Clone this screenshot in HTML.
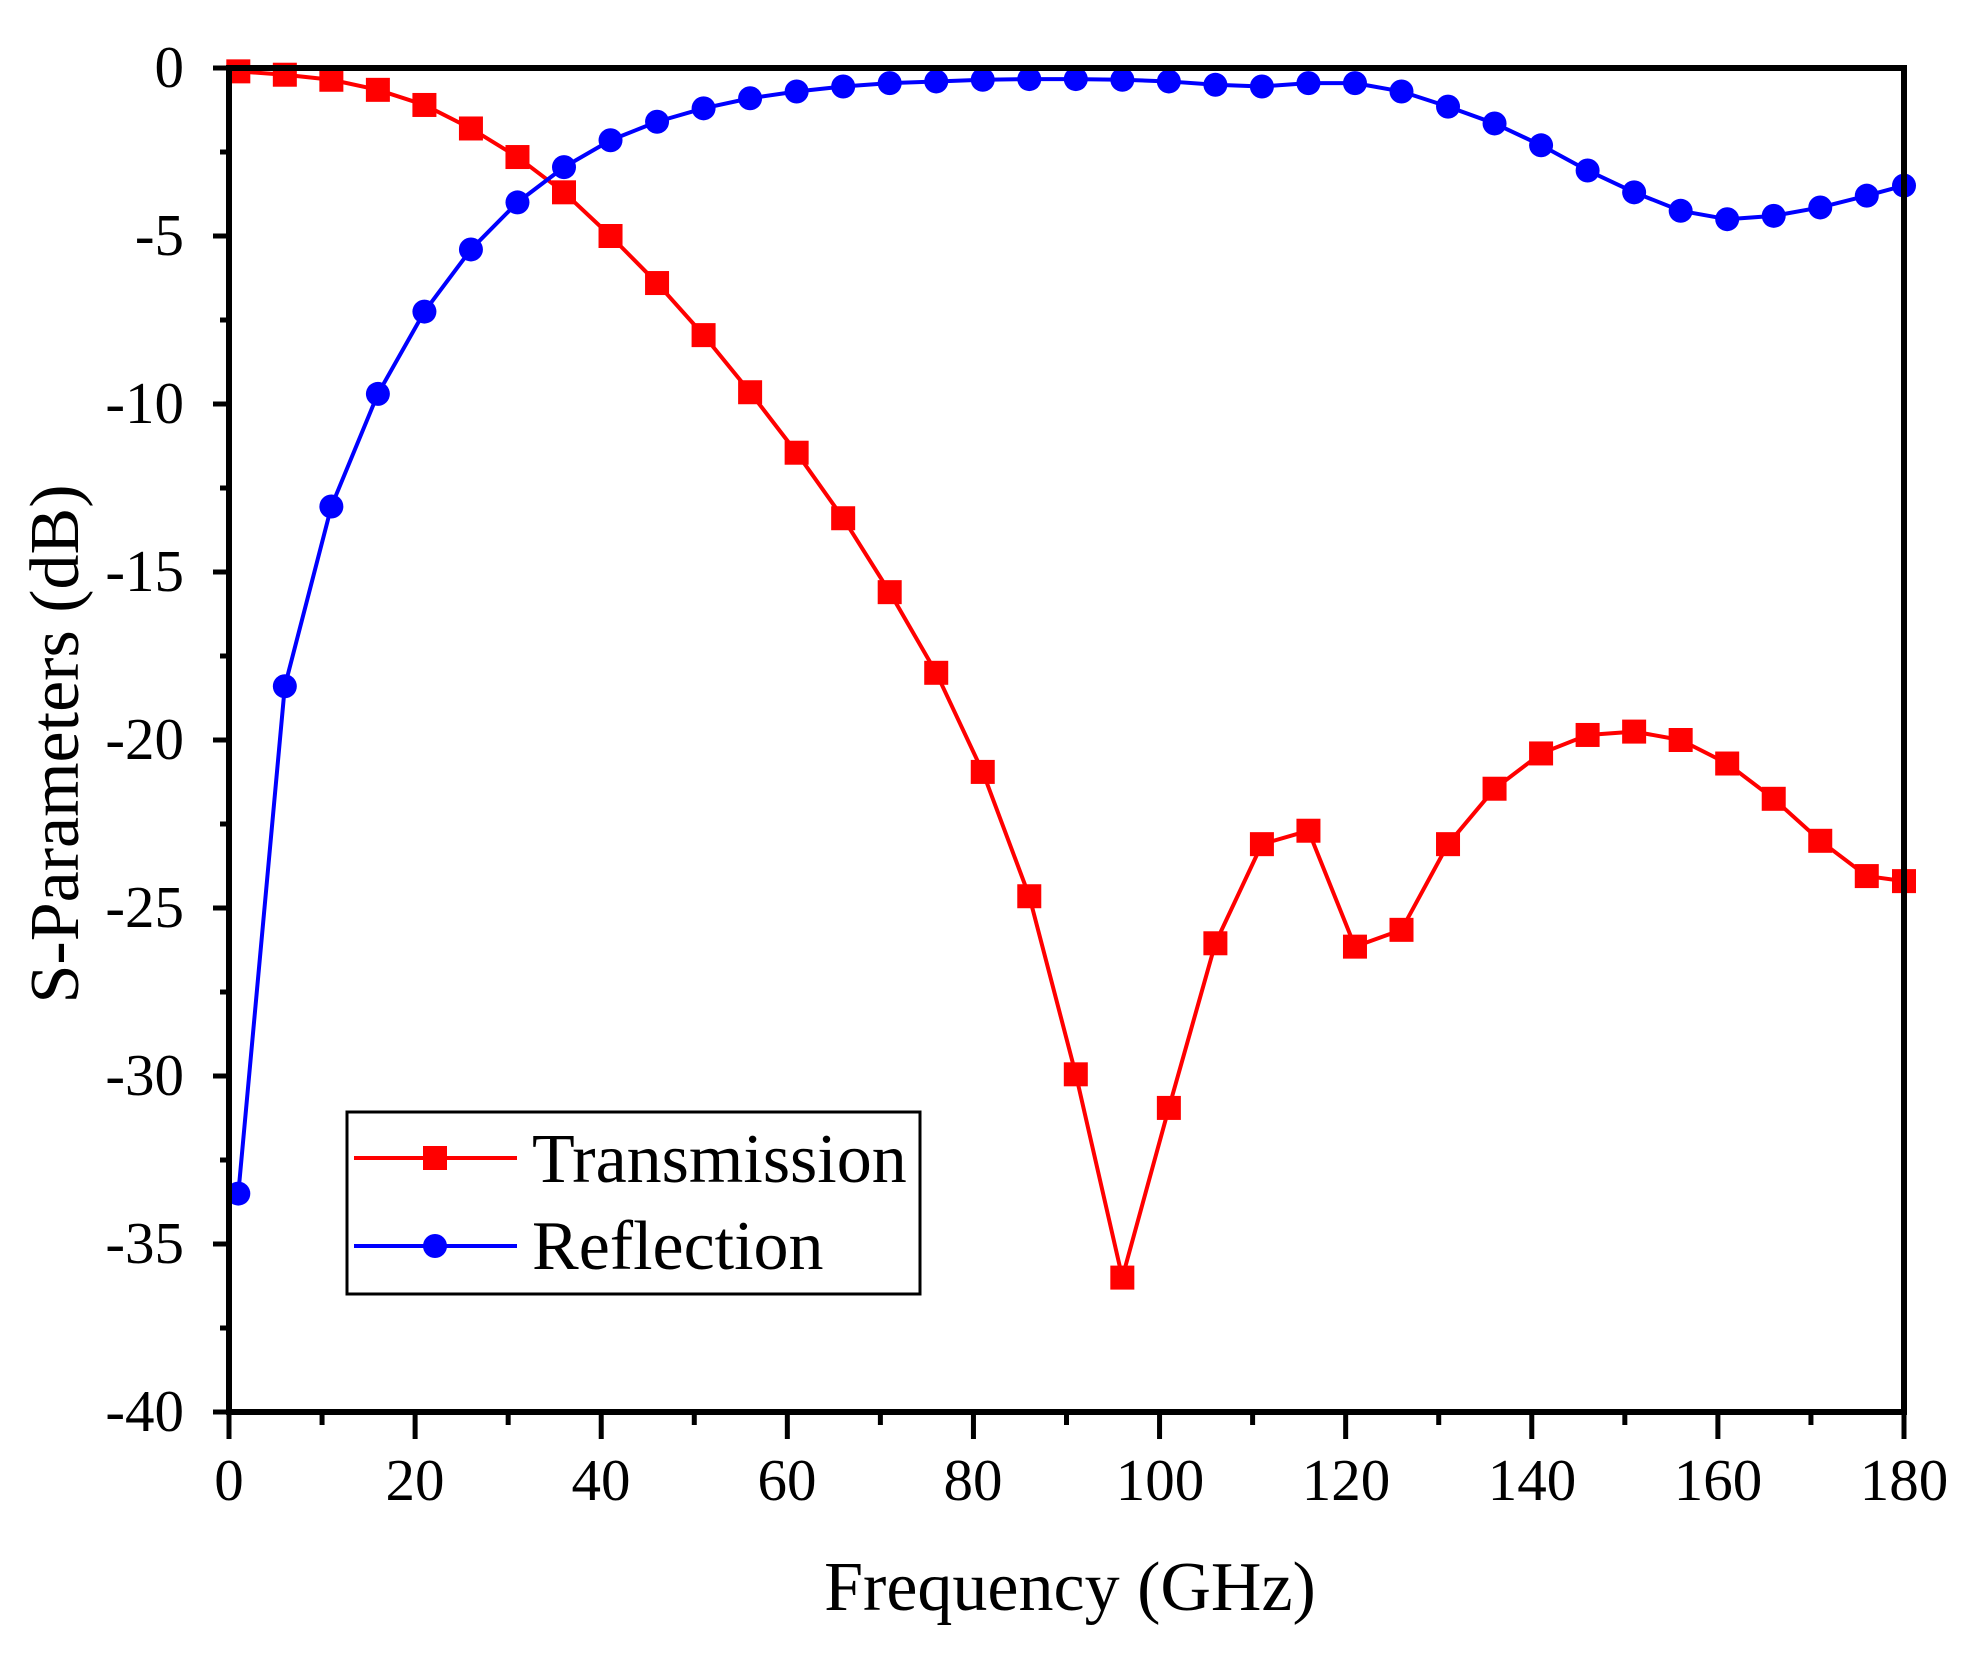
<!DOCTYPE html>
<html><head><meta charset="utf-8"><style>
html,body{margin:0;padding:0;background:#fff;}
svg text{font-family:"Liberation Serif",serif;fill:#000;}
</style></head><body>
<svg id="s" width="1975" height="1664" xmlns="http://www.w3.org/2000/svg">
<rect width="1975" height="1664" fill="#fff"/>
<g id="ticks" stroke="#000" stroke-width="5"></g>
<g font-size="59" text-anchor="end">
<text x="184" y="87">0</text>
<text x="184" y="255">-5</text>
<text x="184" y="423">-10</text>
<text x="184" y="591">-15</text>
<text x="184" y="759">-20</text>
<text x="184" y="927">-25</text>
<text x="184" y="1095">-30</text>
<text x="184" y="1263">-35</text>
<text x="184" y="1431">-40</text>
</g>
<g font-size="59" text-anchor="middle">
<text x="229" y="1500">0</text>
<text x="415" y="1500">20</text>
<text x="601" y="1500">40</text>
<text x="787" y="1500">60</text>
<text x="973" y="1500">80</text>
<text x="1160" y="1500">100</text>
<text x="1346" y="1500">120</text>
<text x="1532" y="1500">140</text>
<text x="1718" y="1500">160</text>
<text x="1904" y="1500">180</text>
</g>
<text x="1070" y="1610" font-size="70" text-anchor="middle">Frequency (GHz)</text>
<text transform="translate(78,744) rotate(-90)" font-size="70" text-anchor="middle">S-Parameters (dB)</text>
<g id="data"></g>
<rect x="229" y="68" width="1675" height="1344" fill="none" stroke="#000" stroke-width="6"/>
<rect x="347" y="1112" width="573" height="182" fill="#fff" stroke="#000" stroke-width="3"/>
<line x1="354" y1="1158" x2="517" y2="1158" stroke="#f00" stroke-width="4"/>
<rect x="423" y="1146" width="24" height="24" fill="#f00"/>
<line x1="354" y1="1246" x2="517" y2="1246" stroke="#00f" stroke-width="4"/>
<circle cx="435" cy="1246" r="12" fill="#00f"/>
<text x="532" y="1182" font-size="70">Transmission</text>
<text x="532" y="1269" font-size="70">Reflection</text>
</svg>
<script>
var X=function(f){return 229+f*1675/180},Y=function(d){return 68-d*33.6};
var t=document.getElementById('ticks'),h='';
for(var d=0;d>=-40;d-=2.5){var y=Y(d),maj=(d%5==0);h+='<line x1="'+(229-(maj?16:9))+'" y1="'+y+'" x2="229" y2="'+y+'"/>';}
for(var f=0;f<=180;f+=10){var x=X(f),maj=(f%20==0);h+='<line x1="'+x+'" y1="1412" x2="'+x+'" y2="'+(1412+(maj?27:13))+'"/>';}
t.innerHTML=h;
var fx=[];for(var i=1;i<=176;i+=5)fx.push(i);fx.push(180);
var T=[-0.1,-0.2,-0.35,-0.65,-1.1,-1.8,-2.65,-3.7,-5.0,-6.4,-7.95,-9.65,-11.45,-13.4,-15.6,-18.0,-20.95,-24.65,-29.95,-36.0,-30.95,-26.05,-23.1,-22.7,-26.15,-25.65,-23.1,-21.45,-20.4,-19.85,-19.75,-20.0,-20.7,-21.75,-23.0,-24.05,-24.2];
var R=[-33.5,-18.4,-13.05,-9.7,-7.25,-5.4,-4.0,-2.95,-2.15,-1.6,-1.2,-0.9,-0.7,-0.55,-0.45,-0.4,-0.35,-0.33,-0.33,-0.35,-0.4,-0.5,-0.55,-0.45,-0.45,-0.7,-1.15,-1.65,-2.3,-3.05,-3.7,-4.25,-4.5,-4.4,-4.15,-3.8,-3.5];
var g='',pt='',pr='';
for(var i=0;i<fx.length;i++){pt+=X(fx[i])+','+Y(T[i])+' ';pr+=X(fx[i])+','+Y(R[i])+' ';}
g+='<polyline points="'+pt+'" fill="none" stroke="#f00" stroke-width="4" stroke-linejoin="round"/>';
g+='<polyline points="'+pr+'" fill="none" stroke="#00f" stroke-width="4" stroke-linejoin="round"/>';
for(var i=0;i<fx.length;i++){g+='<rect x="'+(X(fx[i])-12)+'" y="'+(Y(T[i])-12)+'" width="24" height="24" fill="#f00"/>';}
for(var i=0;i<fx.length;i++){g+='<circle cx="'+X(fx[i])+'" cy="'+Y(R[i])+'" r="12" fill="#00f"/>';}
document.getElementById('data').innerHTML=g;
</script>
</body></html>
